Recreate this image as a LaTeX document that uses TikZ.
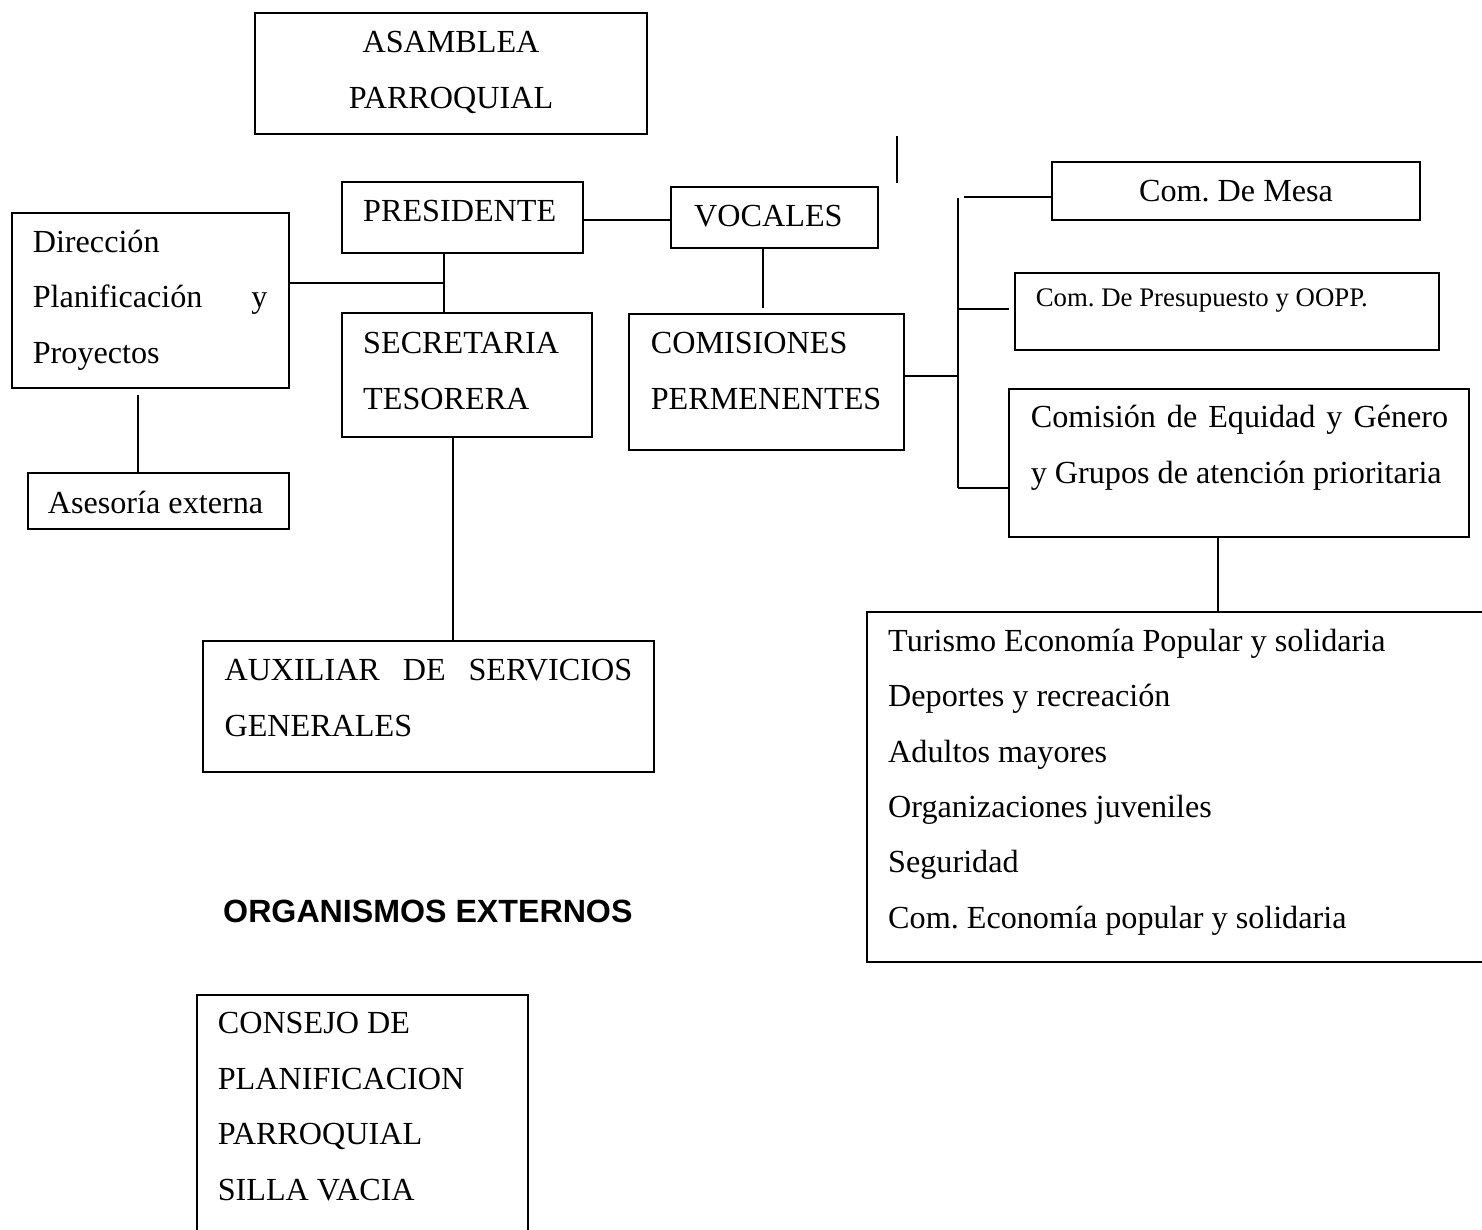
\documentclass[tikz,border=0pt]{standalone}
\usepackage{fontspec}
\setmainfont{Liberation Serif}
\newfontfamily\headfont{Liberation Sans}
\usetikzlibrary{fit}
\frenchspacing

\tikzset{
  box/.style={draw, line width=0.75pt, inner sep=0pt},
  txt/.style={inner sep=0pt, anchor=base west, align=left,
    font=\fontsize{12pt}{20.65pt}\selectfont},
  ctxt/.style={txt, anchor=base, align=center},
  link/.style={line width=0.75pt},
}

\begin{document}
\begin{tikzpicture}[x=0.3731pt, y=-0.3731pt]
  \useasboundingbox (0,0) rectangle (1482,1230);

  % boxes
  \node[box, fit={(255,13) (647,134)}] (asamblea) {};
  \node[box, fit={(342,182) (583,253)}] (pres) {};
  \node[box, fit={(671,187) (878,248)}] (voc) {};
  \node[box, fit={(12,213) (289,388)}] (dir) {};
  \node[box, fit={(342,313) (592,437)}] (secr) {};
  \node[box, fit={(629,314) (904,450)}] (com) {};
  \node[box, fit={(28,473) (289,529)}] (ases) {};
  \node[box, fit={(203,641) (654,772)}] (aux) {};
  \node[box, fit={(1052,162) (1420,220)}] (mesa) {};
  \node[box, fit={(1015,273) (1439,350)}] (presu) {};
  \node[box, fit={(1009,389) (1469,537)}] (equi) {};
  \node[box, fit={(867,612) (1485,962)}] (tur) {};
  \node[box, fit={(197,995) (528,1240)}] (cons) {};

  % texts (base = last line)
  \node[ctxt] (asambleaT) at (451,108.3) {ASAMBLEA\\PARROQUIAL};
  \node[txt] (presT) at (362.7,221) {PRESIDENTE};
  \node[txt] (vocT) at (693.7,226.7) {VOCALES};
  \node[txt] (dirT) at (32.3,363.3)
    {Dirección\\\makebox[87.5pt][s]{Planificación y}\\Proyectos};
  \node[txt] (secrT) at (362.7,409.3) {SECRETARIA\\TESORERA};
  \node[txt] (comT) at (650.3,409.3) {COMISIONES\\PERMENENTES};
  \node[ctxt] (asesT) at (155.5,513.3) {Asesoría externa};
  \node[txt] (auxT) at (224,736)
    {\makebox[152.1pt][s]{AUXILIAR DE SERVICIOS}\\GENERALES};
  \node[ctxt] (mesaT) at (1236,201.7) {Com. De Mesa};
  \node[txt, font=\fontsize{10pt}{12pt}\selectfont] (presuT) at (1035.3,306.7)
    {Com. De Presupuesto y OOPP.};
  \node[txt] (equiT) at (1030.3,483.3)
    {\makebox[155.7pt][s]{Comisión de Equidad y Género}\\y Grupos de atención prioritaria};
  \node[txt] (turT) at (887.7,928.3)
    {Turismo Economía Popular y solidaria\\Deportes y recreación\\Adultos mayores\\
     Organizaciones juveniles\\Seguridad\\Com. Economía popular y solidaria};
  \node[txt, font=\headfont\bfseries\fontsize{12pt}{14pt}\selectfont] (orgT) at (222.7,922.7)
    {ORGANISMOS EXTERNOS};
  \node[txt] (consT) at (217.3,1200)
    {CONSEJO DE\\PLANIFICACION\\PARROQUIAL\\SILLA VACIA};

  % junction points
  \coordinate (j0) at (600,220);
  \coordinate (j1) at (444,283);
  \coordinate (j2) at (138,395);
  \coordinate (j3) at (453,0);
  \coordinate (j4) at (763,308);
  \coordinate (b1) at (958,198);
  \coordinate (b2) at (958,488);
  \coordinate (k) at (958,376);
  \coordinate (m) at (964,197);
  \coordinate (p) at (1009,309);
  \coordinate (e) at (1218,0);
  \coordinate (s1) at (897,136);
  \coordinate (s2) at (897,183);

  % connectors
  \draw[link] (pres.east |- j0) -- (voc.west |- j0);
  \draw[link] (dir.east |- j1) -- (j1);
  \draw[link] (j1 |- pres.south) -- (j1 |- secr.north);
  \draw[link] (j2) -- (j2 |- ases.north);
  \draw[link] (secr.south -| j3) -- (aux.north -| j3);
  \draw[link] (voc.south -| j4) -- (j4);
  \draw[link] (com.east |- k) -- (k);
  \draw[link] (b1) -- (b2);
  \draw[link] (m) -- (mesa.west |- m);
  \draw[link] (p -| b1) -- (p);
  \draw[link] (b2) -- (equi.west |- b2);
  \draw[link] (equi.south -| e) -- (tur.north -| e);
  \draw[link] (s1) -- (s2);
\end{tikzpicture}
\end{document}
